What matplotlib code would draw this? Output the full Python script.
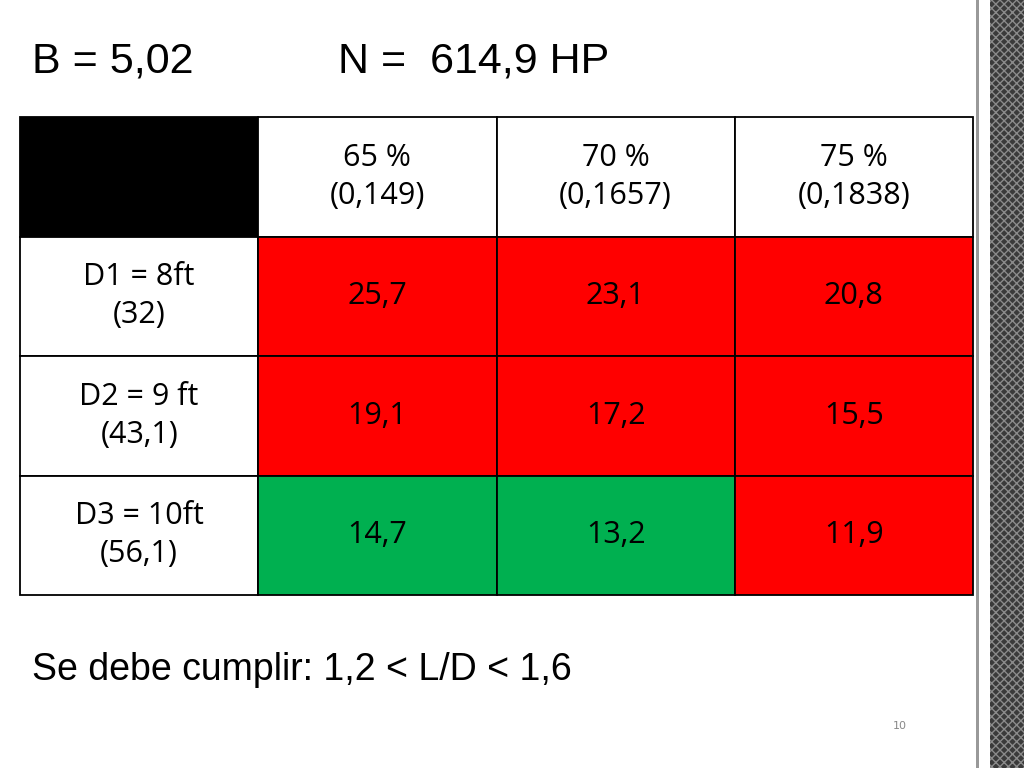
import matplotlib
matplotlib.use("Agg")
import matplotlib.pyplot as plt
from matplotlib.patches import Rectangle

title_b = "B = 5,02"
title_n = "N =  614,9 HP"
col_labels = ["65 %\n(0,149)", "70 %\n(0,1657)", "75 %\n(0,1838)"]
row_labels = ["D1 = 8ft\n(32)", "D2 = 9 ft\n(43,1)", "D3 = 10ft\n(56,1)"]
values = [["25,7", "23,1", "20,8"],
          ["19,1", "17,2", "15,5"],
          ["14,7", "13,2", "11,9"]]
ok = [[False, False, False],
      [False, False, False],
      [True, True, False]]
footer = "Se debe cumplir: 1,2 < L/D < 1,6"
page = "10"

fig = plt.figure(figsize=(10.24, 7.68), dpi=100)
ax = fig.add_axes([0, 0, 1, 1])
ax.set_xlim(0, 1024)
ax.set_ylim(768, 0)
ax.axis("off")

x0, cw = 20, 238.25
y0, rh = 117, 119.5
cfont = "Open Sans"
RED, GREEN = "#FF0000", "#00B050"

def cell(c, r, fc, text, tc="black"):
    ax.add_patch(Rectangle((x0 + c*cw, y0 + r*rh), cw, rh, facecolor=fc,
                           edgecolor="black", lw=1.3))
    if text:
        ax.text(x0 + c*cw + cw/2, y0 + r*rh + rh/2, text, ha="center", va="center",
                fontsize=22, family=cfont, color=tc, linespacing=1.35)

cell(0, 0, "black", "")
for j, lab in enumerate(col_labels):
    cell(j+1, 0, "white", lab)
for i, lab in enumerate(row_labels):
    cell(0, i+1, "white", lab)
    for j, v in enumerate(values[i]):
        cell(j+1, i+1, GREEN if ok[i][j] else RED, v)

ax.text(32, 62, title_b, fontsize=31, family="Liberation Sans", va="center")
ax.text(338, 62, title_n, fontsize=31, family="Liberation Sans", va="center")
ax.text(32, 670, footer, fontsize=27, family="Liberation Sans", va="center")
ax.text(900, 726, page, fontsize=8, color="#888888", ha="center", va="center")

# right decorative stripe
ax.add_patch(Rectangle((976, 0), 3, 768, facecolor="#999999", lw=0))
ax.add_patch(Rectangle((990, 0), 34, 768, facecolor="#3a3a3a", lw=0,
                       hatch="xxxx", edgecolor="#8a8a8a"))

fig.savefig("out.png", dpi=100, facecolor="white")
